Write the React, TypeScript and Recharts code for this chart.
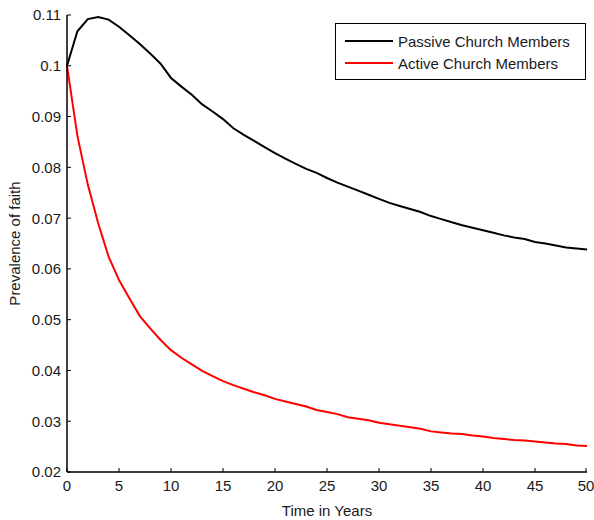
import { LineChart, Line, XAxis, YAxis } from "recharts";

const years = Array.from({ length: 51 }, (_, i) => i);

const passive = [
  0.1, 0.1068, 0.1092, 0.1096, 0.1091, 0.1077, 0.106, 0.1043, 0.1024, 0.1004,
  0.0976, 0.0959, 0.0943, 0.0924, 0.091, 0.0895, 0.0877, 0.0864, 0.0852, 0.084,
  0.0828, 0.0817, 0.0807, 0.0797, 0.0789, 0.0779, 0.077, 0.0762, 0.0754, 0.0746,
  0.0738, 0.073, 0.0724, 0.0718, 0.0712, 0.0704, 0.0698, 0.0692, 0.0686, 0.0681,
  0.0676, 0.0671, 0.0666, 0.0662, 0.0659, 0.0653, 0.065, 0.0646, 0.0642, 0.064,
  0.0638,
];

const active = [
  0.1, 0.0862, 0.0766, 0.069, 0.0624, 0.0578, 0.0542, 0.0507, 0.0483, 0.046,
  0.044, 0.0425, 0.0412, 0.0399, 0.0389, 0.0379, 0.0371, 0.0364, 0.0357, 0.0351,
  0.0344, 0.0339, 0.0334, 0.0329, 0.0322, 0.0318, 0.0314, 0.0308, 0.0305, 0.0302,
  0.0297, 0.0294, 0.0291, 0.0288, 0.0285, 0.028, 0.0278, 0.0276, 0.0275, 0.0272,
  0.027, 0.0267, 0.0265, 0.0263, 0.0262, 0.026, 0.0258, 0.0256, 0.0255, 0.0252,
  0.0251,
];

const xTicks = [0, 5, 10, 15, 20, 25, 30, 35, 40, 45, 50];
const yTicks = [0.02, 0.03, 0.04, 0.05, 0.06, 0.07, 0.08, 0.09, 0.1, 0.11];

const legendRows = [
  { label: "Passive Church Members", color: "#000000" },
  { label: "Active Church Members", color: "#ff0000" },
];

const data = years.map((t, i) => ({ t, passive: passive[i], active: active[i] }));

const font = "Arial, 'Liberation Sans', sans-serif";
const tickStyle = { fontSize: 15, fill: "#1a1a1a", fontFamily: font };
const fmtY = (v: number) => String(Number(v.toFixed(2)));
const frame = { stroke: "#000", strokeWidth: 1.5 };
const TICK = 4;
const XM = 8; // gap between axis and x labels
const YM = 6; // gap between axis and y labels

// matlab draws short ticks inside the box, so each tick draws its own mark
function BottomTick({ x, y, payload }: any) {
  const ay = y - XM;
  return (
    <g>
      <line x1={x} x2={x} y1={ay} y2={ay - TICK} stroke="#000" />
      <text x={x} y={y} dy="0.75em" textAnchor="middle" {...tickStyle}>
        {payload.value}
      </text>
    </g>
  );
}

function LeftTick({ x, y, payload }: any) {
  const ax = x + YM;
  return (
    <g>
      <line x1={ax} x2={ax + TICK} y1={y} y2={y} stroke="#000" />
      <text x={x} y={y} dy="0.36em" textAnchor="end" {...tickStyle}>
        {fmtY(payload.value)}
      </text>
    </g>
  );
}

function TopTick({ x, y }: any) {
  return <line x1={x} x2={x} y1={y} y2={y + TICK} stroke="#000" />;
}

function RightTick({ x, y }: any) {
  return <line x1={x} x2={x - TICK} y1={y} y2={y} stroke="#000" />;
}

function LegendBox() {
  return (
    <div
      style={{
        position: "absolute",
        left: 335,
        top: 23,
        width: 251,
        height: 57,
        border: "1px solid #000",
        background: "#fff",
        boxSizing: "border-box",
        fontFamily: font,
        fontSize: 15,
        color: "#1a1a1a",
        paddingTop: 6,
      }}
    >
      {legendRows.map((r) => (
        <div key={r.label} style={{ display: "flex", alignItems: "center", height: 22 }}>
          <div style={{ width: 48, height: 2, background: r.color, marginLeft: 9, marginRight: 5 }} />
          <span>{r.label}</span>
        </div>
      ))}
    </div>
  );
}

export default function App() {
  return (
    <div style={{ position: "absolute", left: 0, top: 0, width: 594, height: 520, background: "#fff" }}>
      <LineChart
        width={594}
        height={520}
        data={data}
        margin={{ top: 15, right: 7, bottom: 20, left: 7 }}
      >
        <XAxis
          dataKey="t"
          type="number"
          domain={[0, 50]}
          ticks={xTicks}
          tick={<BottomTick />}
          tickLine={false}
          tickSize={0}
          tickMargin={XM}
          height={28}
          axisLine={frame}
          label={{ value: "Time in Years", position: "insideBottom", offset: -16, style: tickStyle }}
        />
        <XAxis
          xAxisId="top"
          dataKey="t"
          type="number"
          orientation="top"
          domain={[0, 50]}
          ticks={xTicks}
          tick={<TopTick />}
          tickLine={false}
          tickSize={0}
          tickMargin={0}
          height={0}
          axisLine={frame}
        />
        <YAxis
          type="number"
          domain={[0.02, 0.11]}
          ticks={yTicks}
          tick={<LeftTick />}
          tickLine={false}
          tickSize={0}
          tickMargin={YM}
          width={60}
          axisLine={frame}
          label={{
            value: "Prevalence of faith",
            angle: -90,
            position: "insideLeft",
            offset: 8,
            style: { ...tickStyle, textAnchor: "middle" },
          }}
        />
        <YAxis
          yAxisId="right"
          orientation="right"
          type="number"
          domain={[0.02, 0.11]}
          ticks={yTicks}
          tick={<RightTick />}
          tickLine={false}
          tickSize={0}
          tickMargin={0}
          width={0}
          axisLine={frame}
        />
        <Line
          dataKey="passive"
          stroke="#000000"
          strokeWidth={2}
          dot={false}
          type="linear"
          isAnimationActive={false}
        />
        <Line
          dataKey="active"
          stroke="#ff0000"
          strokeWidth={2}
          dot={false}
          type="linear"
          isAnimationActive={false}
        />
      </LineChart>
      <LegendBox />
    </div>
  );
}
